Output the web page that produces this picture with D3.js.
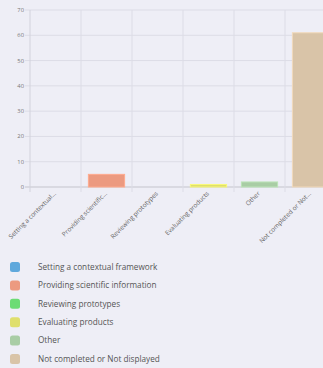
<!DOCTYPE html>
<html><head><meta charset="utf-8">
<script src="https://cdn.jsdelivr.net/npm/d3@7"></script>
<style>
html,body{margin:0;padding:0;background:#eeeef6;overflow:hidden}
svg{display:block}
</style></head>
<body>
<svg id="c" width="323" height="368"></svg>
<script>
const categories = ["Setting a contextual framework","Providing scientific information","Reviewing prototypes","Evaluating products","Other","Not completed or Not displayed"];
const shortLabels = ["Setting a contextual...","Providing scientific...","Reviewing prototypes","Evaluating products","Other","Not completed or Not..."];
const values = [0, 5, 0, 1, 2, 61];
const colors = ["#5fa8dc","#ec9a80","#6cdc74","#dfdf6c","#a9cda5","#d9c4a8"];
const yTicks = [0,10,20,30,40,50,60,70];

const svg = d3.select("#c");
const x = d3.scaleBand().domain(categories).range([30, 336]).paddingInner(0).paddingOuter(0);
const y = d3.scaleLinear().domain([0, 70]).range([187, 10]);

// grid
const g = svg.append("g");
g.selectAll("line.h").data(yTicks).join("line")
  .attr("x1", 25).attr("x2", 340)
  .attr("y1", d => y(d)).attr("y2", d => y(d))
  .attr("stroke", d => d === 0 ? "#c4c4cc" : "#dcdce6").attr("stroke-width", 1);
const vx = categories.map(c => x(c)).concat([x.range()[1]]);
g.selectAll("line.v").data(vx).join("line")
  .attr("x1", d => d).attr("x2", d => d)
  .attr("y1", 10).attr("y2", 192)
  .attr("stroke", (d,i) => i === 0 ? "#d2d2dc" : "#dcdce6").attr("stroke-width", 1);

// y labels
g.selectAll("text.yt").data(yTicks).join("text")
  .attr("x", 24).attr("y", d => y(d)).attr("dy", "0.35em")
  .attr("text-anchor", "end")
  .attr("font-family", "Open Sans, sans-serif").attr("font-size", 5.8)
  .attr("fill", "#777").text(d => d);

// bars
const bw = x.bandwidth() * 0.71;
svg.append("g").selectAll("rect").data(categories).join("rect")
  .attr("x", d => x(d) + (x.bandwidth() - bw) / 2)
  .attr("width", bw)
  .attr("y", (d,i) => y(values[i]))
  .attr("height", (d,i) => y(0) - y(values[i]))
  .attr("fill", (d,i) => colors[i])
  .attr("stroke", (d,i) => d3.color(colors[i]).brighter(0.3))
  .attr("stroke-width", 1);

// x labels
svg.append("g").selectAll("text").data(categories).join("text")
  .attr("transform", d => `translate(${x(d) + x.bandwidth()/2 + 1},${194}) rotate(-45)`)
  .attr("text-anchor", "end")
  .attr("font-family", "Open Sans, sans-serif").attr("font-size", 6.4)
  .attr("fill", "#666").text((d,i) => shortLabels[i]);

// legend
const leg = svg.append("g");
categories.forEach((c, i) => {
  const cy = 267 + i * 18.4;
  leg.append("rect").attr("x", 10).attr("y", cy - 5).attr("width", 10).attr("height", 10)
    .attr("rx", 2.5).attr("fill", colors[i]);
  leg.append("text").attr("x", 38).attr("y", cy).attr("dy", "0.35em")
    .attr("font-family", "Open Sans, sans-serif").attr("font-size", 8.2)
    .attr("fill", "#555").text(c);
});
</script>
</body></html>
